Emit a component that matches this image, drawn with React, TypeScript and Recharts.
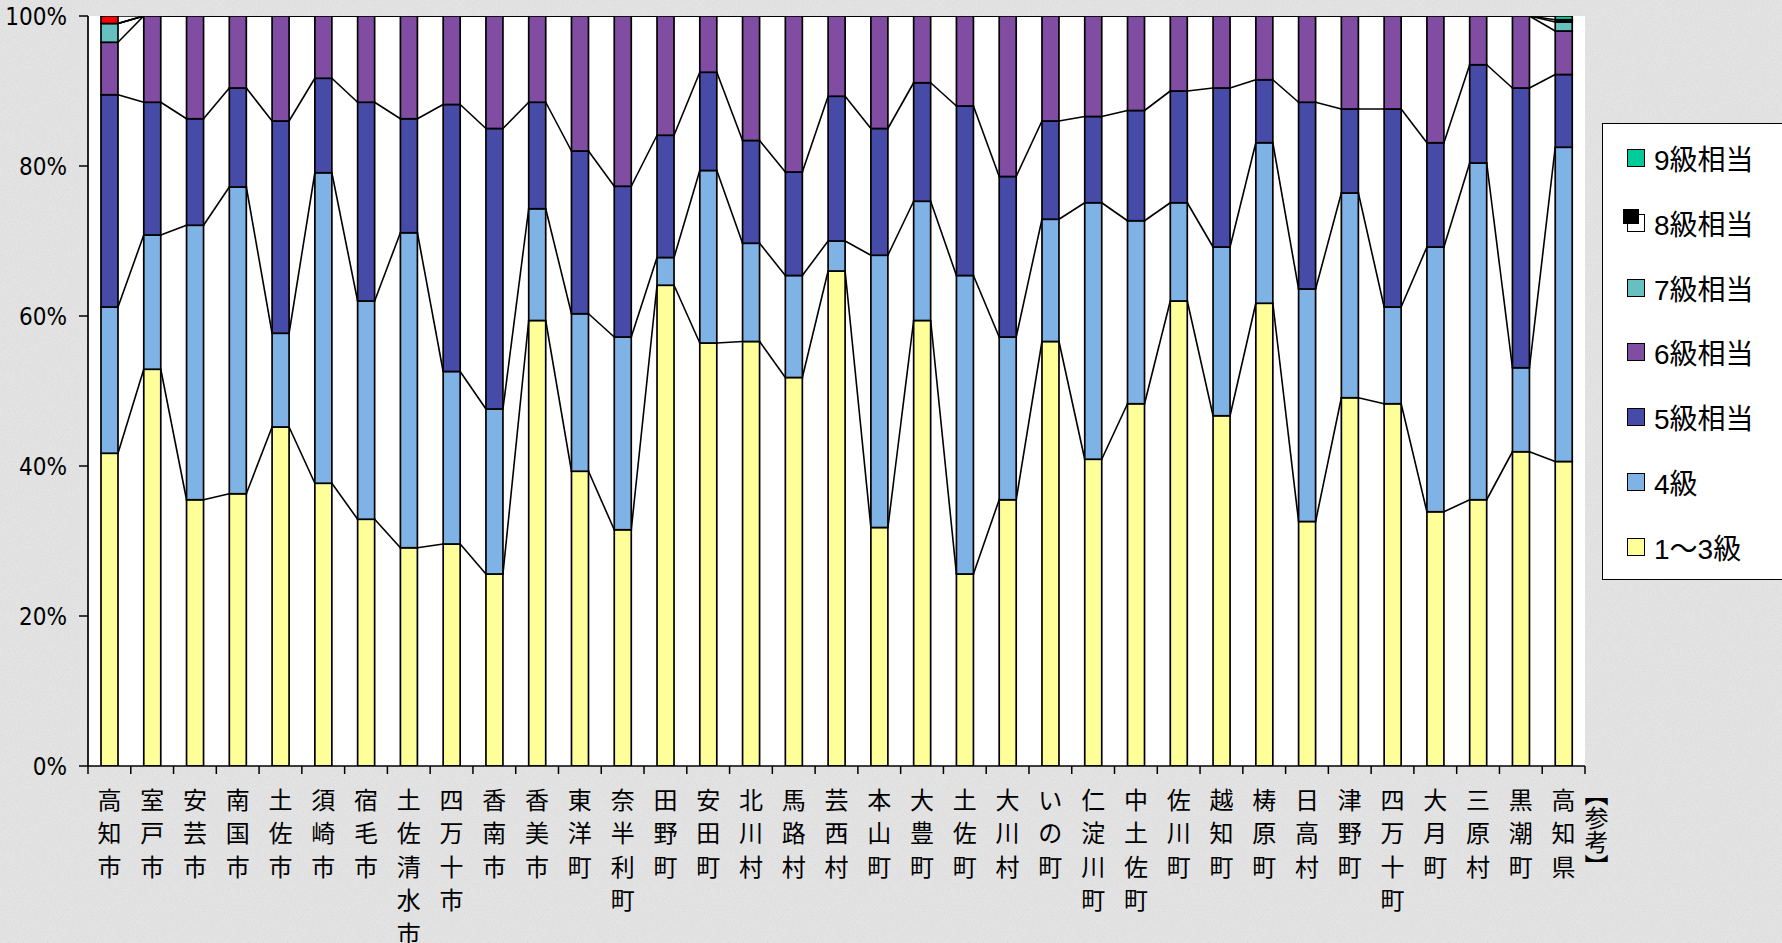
import React from "react";
import { BarChart, Bar, XAxis, YAxis, CartesianGrid, Legend } from "recharts";

// municipalities, left to right
const CATEGORIES = [
  "高知市", "室戸市", "安芸市", "南国市", "土佐市", "須崎市", "宿毛市", "土佐清水市",
  "四万十市", "香南市", "香美市", "東洋町", "奈半利町", "田野町", "安田町", "北川村",
  "馬路村", "芸西村", "本山町", "大豊町", "土佐町", "大川村", "いの町", "仁淀川町",
  "中土佐町", "佐川町", "越知町", "梼原町", "日高村", "津野町", "四万十町", "大月町",
  "三原村", "黒潮町", "【参考】高知県",
];

// share (%) per grade
const GRADE_1_3 = [
  41.7, 52.9, 35.5, 36.3, 45.2, 37.7, 32.9, 29.1, 29.6, 25.6, 59.4, 39.3, 31.5, 64.1, 56.4, 56.6,
  51.8, 66.0, 31.8, 59.4, 25.6, 35.5, 56.6, 40.9, 48.3, 62.0, 46.7, 61.7, 32.6, 49.1, 48.3, 33.9,
  35.5, 41.9, 40.6,
];
const GRADE_4 = [
  19.5, 17.9, 36.6, 40.9, 12.5, 41.4, 29.1, 42.0, 23.0, 22.0, 14.9, 21.0, 25.7, 3.7, 23.0, 13.1,
  13.6, 4.0, 36.3, 15.9, 39.8, 21.7, 16.3, 34.2, 24.4, 13.1, 22.5, 21.4, 31.0, 27.3, 12.9, 35.3,
  44.9, 11.2, 41.9,
];
const GRADE_5 = [
  28.3, 17.7, 14.2, 13.2, 28.3, 12.6, 26.5, 15.2, 35.6, 37.4, 14.2, 21.7, 20.1, 16.3, 13.1, 13.7,
  13.8, 19.3, 16.9, 15.8, 22.6, 21.4, 13.1, 11.5, 14.7, 14.9, 21.2, 8.4, 24.9, 11.2, 26.4, 13.9,
  13.1, 37.3, 9.7,
];
const GRADE_6 = [
  7.0, 11.5, 13.7, 9.6, 14.0, 8.3, 11.5, 13.7, 11.8, 15.0, 11.5, 18.0, 22.7, 15.9, 7.5, 16.6,
  20.8, 10.7, 15.0, 8.9, 12.0, 21.4, 14.0, 13.4, 12.6, 10.0, 9.6, 8.5, 11.5, 12.4, 12.4, 16.9,
  6.5, 9.6, 5.8,
];
const GRADE_7 = [
  2.5, 0, 0, 0, 0, 0, 0, 0, 0, 0, 0, 0, 0, 0, 0, 0,
  0, 0, 0, 0, 0, 0, 0, 0, 0, 0, 0, 0, 0, 0, 0, 0,
  0, 0, 1.2,
];
const GRADE_8 = [
  0, 0, 0, 0, 0, 0, 0, 0, 0, 0, 0, 0, 0, 0, 0, 0,
  0, 0, 0, 0, 0, 0, 0, 0, 0, 0, 0, 0, 0, 0, 0, 0,
  0, 0, 0.3,
];
const GRADE_9 = [
  0, 0, 0, 0, 0, 0, 0, 0, 0, 0, 0, 0, 0, 0, 0, 0,
  0, 0, 0, 0, 0, 0, 0, 0, 0, 0, 0, 0, 0, 0, 0, 0,
  0, 0, 0.5,
];
// red sliver on top of 高知市, not listed in the legend
const UNLISTED = [
  1.0, 0, 0, 0, 0, 0, 0, 0, 0, 0, 0, 0, 0, 0, 0, 0,
  0, 0, 0, 0, 0, 0, 0, 0, 0, 0, 0, 0, 0, 0, 0, 0,
  0, 0, 0,
];

const Y_TICKS = [0, 20, 40, 60, 80, 100];

const SERIES = [
  { key: "g13", name: "1～3級", values: GRADE_1_3, fill: "#FFFF99", legend: true },
  { key: "g4", name: "4級", values: GRADE_4, fill: "#7FB2E5", legend: true },
  { key: "g5", name: "5級相当", values: GRADE_5, fill: "#454BA6", legend: true },
  { key: "g6", name: "6級相当", values: GRADE_6, fill: "#804DA3", legend: true },
  { key: "g7", name: "7級相当", values: GRADE_7, fill: "#66C0C0", legend: true },
  { key: "g8", name: "8級相当", values: GRADE_8, fill: "#000000", legend: true },
  { key: "g9", name: "9級相当", values: GRADE_9, fill: "#00CC99", legend: true },
  { key: "other", name: "その他", values: UNLISTED, fill: "#FF0000", legend: false },
];

const data = CATEGORIES.map((name, i) => {
  const row: Record<string, string | number> = { name };
  SERIES.forEach((s) => (row[s.key] = s.values[i]));
  return row;
});

const LABEL_FONT = "'Noto Sans CJK JP', sans-serif";
const NUM_FONT = "'Liberation Sans Narrow', 'DejaVu Sans Condensed', 'Liberation Sans', sans-serif";
const EDGE = 1.7;

// x of each column as drawn by the first series, used for the series lines
const columnX: number[] = [];

function stackTop(i: number, s: number) {
  let t = 0;
  for (let k = 0; k <= s; k++) t += SERIES[k].values[i];
  return t;
}

function segmentShape(s: number) {
  return (props: any) => {
    const { x, y, width, height, index, background } = props;
    if (s === 0) columnX[index] = x;
    const yOf = (v: number) => background.y + background.height * (1 - v / 100);
    const prevX = index > 0 ? columnX[index - 1] : undefined;
    return (
      <g>
        {height > 0 && (
          <rect x={x} y={y} width={width} height={height} fill={SERIES[s].fill} stroke="#000" strokeWidth={EDGE} />
        )}
        {prevX !== undefined && (
          <line
            x1={prevX + width}
            y1={yOf(stackTop(index - 1, s))}
            x2={x}
            y2={yOf(stackTop(index, s))}
            stroke="#000"
            strokeWidth={1.6}
          />
        )}
      </g>
    );
  };
}

function CategoryTick(props: any) {
  const { x, y, payload, index } = props;
  const half = payload.offset ?? 21.4;
  const label: string = payload.value;
  const m = label.match(/^(【.*?】)(.*)$/);
  const main = m ? m[2] : label;
  const note = m ? m[1] : null;
  return (
    <g>
      <line x1={x - half} x2={x - half} y1={y - 8} y2={y} stroke="#000" strokeWidth={1.5} />
      {index === CATEGORIES.length - 1 && (
        <line x1={x + half} x2={x + half} y1={y - 8} y2={y} stroke="#000" strokeWidth={1.5} />
      )}
      {Array.from(main).map((ch, i) => (
        <text
          key={i}
          x={x}
          y={y + 24 + i * 33.5}
          textAnchor="middle"
          dominantBaseline="central"
          fontSize={24}
          fontFamily={LABEL_FONT}
          fill="#000"
        >
          {ch}
        </text>
      ))}
      {note && (
        <text
          x={x + 33}
          y={y + 8}
          fontSize={24}
          fontFamily={LABEL_FONT}
          fill="#000"
          style={{ writingMode: "vertical-rl" }}
        >
          {note}
        </text>
      )}
    </g>
  );
}

function Swatch({ color }: { color: string }) {
  if (color === "#000000") {
    // the 8級 key is drawn as a black square peeking out of a white one
    return (
      <span style={{ position: "relative", display: "inline-block", width: 18, height: 18, marginLeft: 24 }}>
        <span style={{ position: "absolute", left: -4, top: -5, width: 16, height: 15, background: "#000" }} />
        <span
          style={{
            position: "absolute",
            left: 0,
            top: 0,
            width: 18,
            height: 18,
            boxSizing: "border-box",
            border: "1.5px solid #000",
            background: "transparent",
          }}
        />
      </span>
    );
  }
  return (
    <span
      style={{
        display: "inline-block",
        width: 18,
        height: 18,
        marginLeft: 24,
        boxSizing: "border-box",
        background: color,
        border: "1.5px solid #000",
      }}
    />
  );
}

function LegendBox({ payload }: any) {
  const items = [...(payload ?? [])].filter((it: any) => it.type !== "none").reverse();
  return (
    <div
      style={{
        width: 182,
        height: 457,
        boxSizing: "border-box",
        background: "#fff",
        border: "1.5px solid #000",
        paddingTop: 1.6,
        fontFamily: "'Liberation Sans', 'Noto Sans CJK JP', sans-serif",
        fontSize: 28,
        color: "#000",
      }}
    >
      {items.map((it: any) => (
        <div key={it.value} style={{ height: 64.8, display: "flex", alignItems: "center" }}>
          <Swatch color={it.color} />
          <span style={{ marginLeft: 9, whiteSpace: "nowrap" }}>{it.value}</span>
        </div>
      ))}
    </div>
  );
}

const noise =
  "url(\"data:image/svg+xml;utf8," +
  encodeURIComponent(
    "<svg xmlns='http://www.w3.org/2000/svg' width='240' height='240'><filter id='n'><feTurbulence type='fractalNoise' baseFrequency='0.85' numOctaves='2' stitchTiles='stitch'/><feColorMatrix type='saturate' values='0'/></filter><rect width='240' height='240' filter='url(#n)' opacity='0.22'/></svg>"
  ) +
  "\")";

export default function App() {
  return (
    <div
      style={{
        position: "absolute",
        left: 0,
        top: 0,
        width: 1782,
        height: 943,
        background: `${noise}, #e6e6e6`,
        overflow: "hidden",
      }}
    >
      <BarChart
        width={1782}
        height={943}
        data={data}
        barSize={17}
        margin={{ top: 16, right: 197, bottom: 0, left: 0 }}
      >
        <CartesianGrid horizontal={false} vertical={false} fill="#ffffff" />
        <XAxis
          dataKey="name"
          interval={0}
          height={177}
          tickLine={false}
          tickSize={8}
          tickMargin={0}
          axisLine={{ stroke: "#000", strokeWidth: 1.7 }}
          tick={<CategoryTick />}
        />
        <XAxis
          xAxisId="top"
          orientation="top"
          dataKey="name"
          height={0}
          tick={false}
          tickLine={false}
          axisLine={{ stroke: "#000", strokeWidth: 1.7 }}
        />
        <YAxis
          type="number"
          domain={[0, 100]}
          allowDataOverflow
          ticks={Y_TICKS}
          width={88}
          tickSize={9}
          tickMargin={12}
          tickFormatter={(v) => `${v}%`}
          tick={{ fill: "#000", fontSize: 24, fontFamily: NUM_FONT }}
          tickLine={{ stroke: "#000", strokeWidth: 1.5 }}
          axisLine={{ stroke: "#000", strokeWidth: 1.7 }}
        />
        <YAxis
          yAxisId="right"
          orientation="right"
          width={0}
          tick={false}
          tickLine={false}
          axisLine={{ stroke: "#9a9a9a", strokeWidth: 1.5 }}
        />
        <Legend
          layout="horizontal"
          align="center"
          verticalAlign="middle"
          wrapperStyle={{ left: 1602, top: 123, width: 182, height: 457 }}
          content={<LegendBox />}
        />
        {SERIES.map((s, si) => (
          <Bar
            key={s.key}
            dataKey={s.key}
            name={s.name}
            stackId="grade"
            fill={s.fill}
            legendType={s.legend ? "square" : "none"}
            shape={segmentShape(si)}
            isAnimationActive={false}
          />
        ))}
      </BarChart>
    </div>
  );
}
